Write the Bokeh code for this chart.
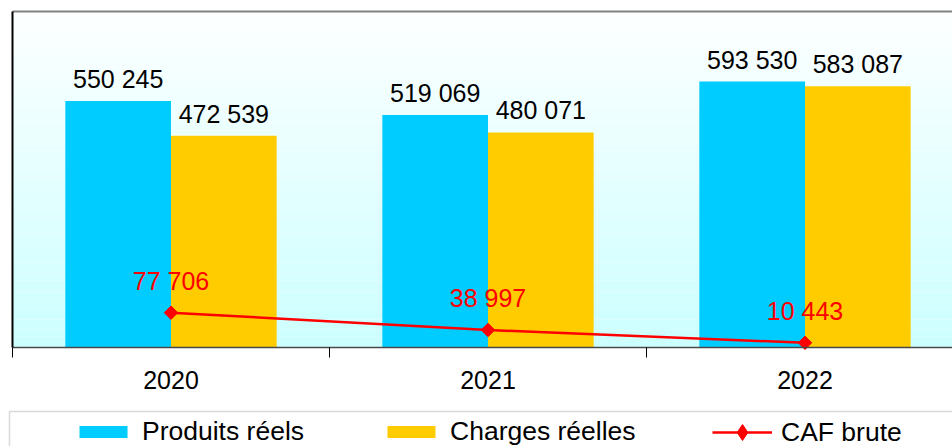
import numpy as np
from bokeh.plotting import figure
from bokeh.models import (ColumnDataSource, Range1d, FixedTicker, Legend,
                          LegendItem, BoxAnnotation, LinearAxis)
from bokeh.core.properties import value
from bokeh.embed import file_html
from bokeh.resources import INLINE

# ---- data ----
years = ["2020", "2021", "2022"]
produits = [550245, 519069, 593530]
charges = [472539, 480071, 583087]
caf = [77706, 38997, 10443]

series_names = ["Produits réels", "Charges réelles", "CAF brute"]
BLUE = "#00CCFF"
YELLOW = "#FFCC00"
RED = "#FF0000"
FONT = "Liberation Sans"
FS = "25px"

Y_MAX = 750000


def fmt(v):
    return f"{v:,}".replace(",", " ")


n = len(years)
centers = np.arange(n) + 0.5
bw = 1 / 3

# layout: canvas 952x446, plot region from (12, 11) to (963, 347) in pixels
W, H = 952, 446
PX_L, PX_T, PX_B = 12, 11, 347
cat_px = 317.0
ppu_y = (PX_B - PX_T) / Y_MAX
x_range = Range1d(-PX_L / cat_px, (W - PX_L) / cat_px)
y_range = Range1d(-(H - PX_B) / ppu_y, Y_MAX + PX_T / ppu_y)

p = figure(width=W, height=H, output_backend="svg", toolbar_location=None,
           x_range=x_range, y_range=y_range,
           min_border_left=0, min_border_top=0, min_border_right=0,
           min_border_bottom=0)
p.outline_line_color = None
p.grid.visible = False
p.background_fill_color = "white"
p.border_fill_color = "white"

# gradient background of the plot area (white -> light cyan)
nb = 60
edges = np.linspace(0, Y_MAX, nb + 1)
cols = []
for k in range(nb):
    t = (k + 0.5) / nb  # 0 bottom, 1 top
    r = int(round(0xCC + (0xFD - 0xCC) * t))
    cols.append("#%02XFFFF" % r)
p.quad(left=0, right=n + 1, bottom=edges[:-1], top=edges[1:], fill_color=cols,
       line_color=None)

src = ColumnDataSource(dict(
    xb=centers - bw / 2, xy=centers + bw / 2, xc=centers,
    produits=produits, charges=charges, caf=caf,
    lp=[fmt(v) for v in produits], lc=[fmt(v) for v in charges],
    lcaf=[fmt(v) for v in caf]))

rb = p.vbar(x="xb", top="produits", width=bw, source=src, fill_color=BLUE,
            line_color=None)
ry = p.vbar(x="xy", top="charges", width=bw, source=src, fill_color=YELLOW,
            line_color=None)
rl = p.line(x="xc", y="caf", source=src, line_color=RED, line_width=2.5)
# diamond glyph (used for the legend), drawn under the rotated squares
rm_leg = p.scatter(x="xc", y="caf", source=src, marker="diamond", size=12,
                   fill_color=RED, line_color=RED)
rm = p.scatter(x="xc", y="caf", source=src, marker="square", angle=np.pi / 4,
               size=9.5, fill_color=RED, line_color=RED)

p.text(x="xb", y="produits", text="lp", source=src, text_align="center",
       text_baseline="alphabetic", y_offset=-22, text_font=value(FONT),
       text_font_size=FS, text_color="black")
p.text(x="xy", y="charges", text="lc", source=src, text_align="center",
       text_baseline="alphabetic", y_offset=-22, text_font=value(FONT),
       text_font_size=FS, text_color="black")
p.text(x="xc", y="caf", text="lcaf", source=src, text_align="center",
       text_baseline="alphabetic", y_offset=-32, text_font=value(FONT),
       text_font_size=FS, text_color=RED)

# left border (black) as a y axis fixed at x=0
ya = p.left[0]
ya.fixed_location = 0
ya.bounds = (0, Y_MAX)
ya.ticker = FixedTicker(ticks=[])
ya.axis_line_color = "black"
ya.axis_line_width = 2
ya.major_tick_line_color = None
ya.minor_tick_line_color = None
ya.major_label_text_color = None

# x axis: labels at centers, ticks at category boundaries
xa = p.below[0]
xa.fixed_location = 0
xa.bounds = (0, n + 1)
xa.ticker = FixedTicker(ticks=list(centers), minor_ticks=list(np.arange(n + 1)))
xa.major_label_overrides = {float(c): y for c, y in zip(centers, years)}
xa.major_tick_out = 0
xa.major_tick_in = 0
xa.minor_tick_out = 10
xa.minor_tick_in = 0
xa.minor_tick_line_color = "black"
xa.minor_tick_line_width = 1
xa.axis_line_color = "#484848"
xa.axis_line_width = 1.5
xa.major_label_standoff = 13
xa.major_label_text_font = FONT
xa.major_label_text_font_size = FS
xa.major_label_text_color = "black"

# top border (gray)
top_axis = LinearAxis(fixed_location=Y_MAX, bounds=(0, n + 1),
                      ticker=FixedTicker(ticks=[]), axis_line_color="#808080",
                      axis_line_width=2, major_tick_line_color=None,
                      minor_tick_line_color=None, major_label_text_color=None)
p.add_layout(top_axis, "above")

# legend box
p.add_layout(BoxAnnotation(left=9, right=2000, top=H - 411, bottom=-60,
                           left_units="screen", right_units="screen",
                           top_units="screen", bottom_units="screen",
                           fill_alpha=0, line_color="#808080", line_width=1.5))

legend_style = dict(orientation="horizontal", glyph_width=60, label_standoff=9,
                    spacing=77, padding=0, margin=0, border_line_color=None,
                    background_fill_alpha=0, label_text_font=FONT,
                    label_text_font_size="26.5px", label_text_color="black",
                    label_height=30)
legend_bars = Legend(items=[LegendItem(label=series_names[0], renderers=[rb]),
                            LegendItem(label=series_names[1], renderers=[ry])],
                     location=(73, -1), glyph_height=15, **legend_style)
legend_line = Legend(items=[LegendItem(label=series_names[2], renderers=[rl, rm_leg])],
                     location=(712, -6), glyph_height=40, **legend_style)
p.add_layout(legend_bars)
p.add_layout(legend_line)

open("out.html", "w").write(file_html(p, INLINE))
